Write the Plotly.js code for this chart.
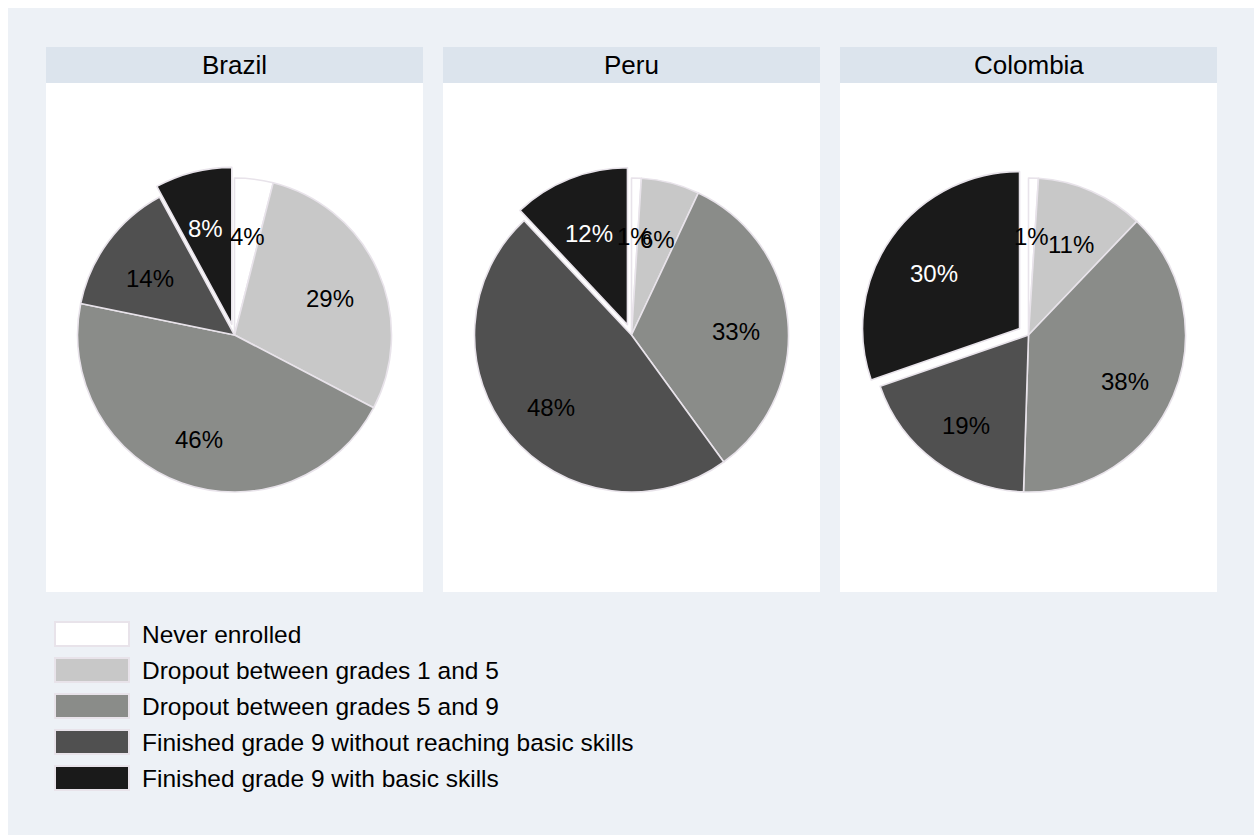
<!DOCTYPE html>
<html>
<head>
<meta charset="utf-8">
<script src="https://cdn.plot.ly/plotly-3.0.1.min.js"></script>
<style>html,body{margin:0;padding:0;background:#fff;}#chart{width:1254px;height:835px;}</style>
</head>
<body>
<div id="chart"></div>
<script>
// ---- data ----
var categories = ["Never enrolled", "Dropout between grades 1 and 5", "Dropout between grades 5 and 9", "Finished grade 9 without reaching basic skills", "Finished grade 9 with basic skills"];
var countries = ["Brazil", "Peru", "Colombia"];
var brazil = [4, 29, 46, 14, 8];
var peru = [1, 6, 33, 48, 12];
var colombia = [1, 11, 38, 19, 30];

// ---- styling ----
var W = 1254, H = 835;
var sliceColors = ["#FFFFFF", "#C8C8C8", "#8A8C89", "#505050", "#1A1A1A"];
var labelColors = ["#000", "#000", "#000", "#000", "#FFF"];
var outline = "#E8E3EA";
var FONT = "Liberation Sans, Arial, Helvetica, sans-serif";
var series = [brazil, peru, colombia];
var panelLeft = [46, 443, 840];
var panelW = 377;
var headerTop = 47, headerBot = 83, panelBot = 592;
var pieCY = 335, R = 157, PULL = 0.07, labelR = 105;

function px(x) { return x / W; }
function py(y) { return 1 - y / H; }

var traces = [], shapes = [], annotations = [];

// background region
shapes.push({type: "rect", xref: "paper", yref: "paper", x0: px(8), x1: 1, y0: 0, y1: py(8), fillcolor: "#EDF1F6", line: {width: 0}, layer: "below"});

series.forEach(function (vals, i) {
  var cx = panelLeft[i] + panelW / 2;
  shapes.push({type: "rect", xref: "paper", yref: "paper", x0: px(panelLeft[i]), x1: px(panelLeft[i] + panelW), y0: py(panelBot), y1: py(headerBot), fillcolor: "#FFFFFF", line: {width: 0}, layer: "below"});
  shapes.push({type: "rect", xref: "paper", yref: "paper", x0: px(panelLeft[i]), x1: px(panelLeft[i] + panelW), y0: py(headerBot), y1: py(headerTop), fillcolor: "#DCE4ED", line: {width: 0}, layer: "below"});
  annotations.push({xref: "paper", yref: "paper", x: px(cx), y: py((headerTop + headerBot) / 2), text: countries[i], showarrow: false, xanchor: "center", yanchor: "middle", font: {family: FONT, size: 26, color: "#000"}});

  var half = R * (1 + PULL);
  var pulls = vals.map(function (v, k) { return k === vals.length - 1 ? PULL : 0; });
  traces.push({
    type: "pie", values: vals, labels: categories, sort: false, direction: "clockwise", rotation: 0,
    pull: pulls, textinfo: "none", hoverinfo: "label+value", showlegend: false,
    marker: {colors: sliceColors, line: {color: outline, width: 1.6}},
    domain: {x: [px(cx - half), px(cx + half)], y: [py(pieCY + half), py(pieCY - half)]}
  });

  // slice labels at mid-angle
  var total = vals.reduce(function (a, b) { return a + b; }, 0);
  var cum = 0;
  vals.forEach(function (v, k) {
    var mid = (cum + v / 2) / total * 2 * Math.PI;
    cum += v;
    var r = labelR + pulls[k] * R;
    var lx = cx + r * Math.sin(mid);
    var ly = pieCY - r * Math.cos(mid) + 6;
    annotations.push({xref: "paper", yref: "paper", x: px(lx), y: py(ly), text: v + "%", showarrow: false, xanchor: "center", yanchor: "middle", font: {family: FONT, size: 24, color: labelColors[k]}});
  });
});

// legend
var legTop = 622, legStep = 36, boxH = 24;
categories.forEach(function (c, k) {
  var y0 = legTop + k * legStep;
  shapes.push({type: "rect", xref: "paper", yref: "paper", x0: px(55), x1: px(129), y0: py(y0 + boxH), y1: py(y0), fillcolor: sliceColors[k], line: {color: outline, width: 2}, layer: "above"});
  annotations.push({xref: "paper", yref: "paper", x: px(140), y: py(y0 + boxH / 2), text: c, showarrow: false, xanchor: "left", yanchor: "middle", font: {family: FONT, size: 24.5, color: "#000"}});
});

var layout = {
  width: W, height: H, margin: {l: 0, r: 0, t: 0, b: 0},
  paper_bgcolor: "#FFFFFF", plot_bgcolor: "#FFFFFF",
  showlegend: false, shapes: shapes, annotations: annotations
};
Plotly.newPlot("chart", traces, layout, {displayModeBar: false, staticPlot: true});
</script>
</body>
</html>
